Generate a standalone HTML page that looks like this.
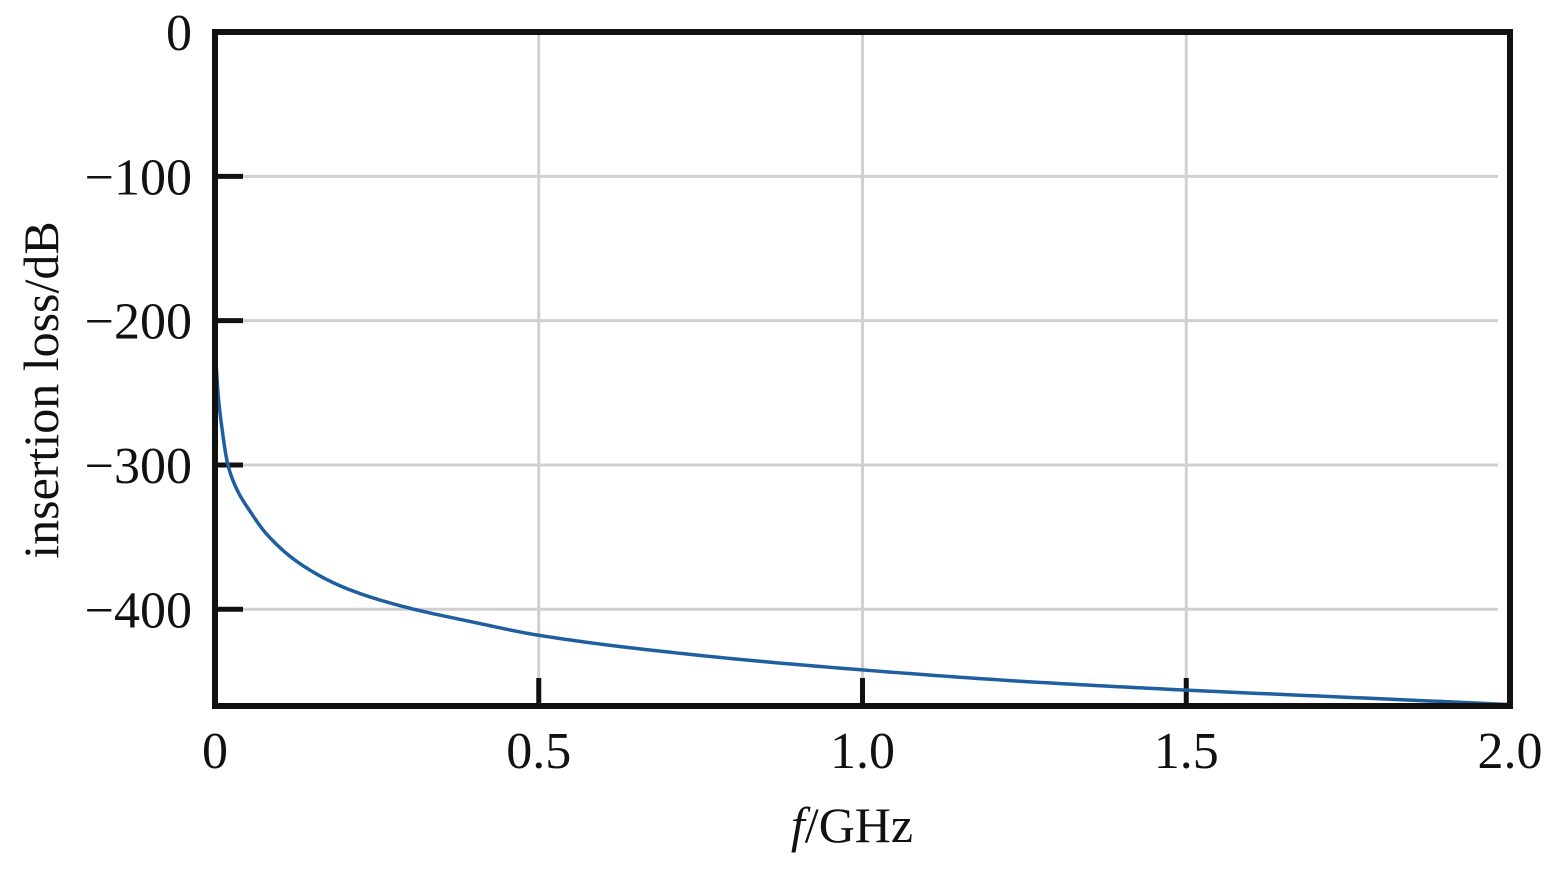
<!DOCTYPE html>
<html><head><meta charset="utf-8"><style>
body{margin:0;background:#fff}
svg{display:block;font-family:"Liberation Serif",serif}
</style></head><body>
<svg id="c" width="1559" height="874"></svg>
<script>
const freqs=[0,0.002,0.005,0.01,0.02,0.035,0.054,0.08,0.13,0.2,0.29,0.4,0.5,0.75,1,1.25,1.5,1.75,2];
const loss=[-218,-232,-252,-272,-300,-318,-332,-348,-368,-385,-398,-409,-418,-432,-442,-450,-456,-461,-466];
const xTicks=[0,0.5,1.0,1.5,2.0];
const xTickLabels=["0","0.5","1.0","1.5","2.0"];
const yTicks=[0,-100,-200,-300,-400];
const yTickLabels=["0","\u2212100","\u2212200","\u2212300","\u2212400"];
const L=215,R=1510,T=32,B=706;
const X=v=>L+(v-0)/(2-0)*(R-L);
const Y=v=>T+(0-v)/(467)*(B-T);
const svg=document.getElementById('c');
const NS='http://www.w3.org/2000/svg';
function mk(t,a,p){const e=document.createElementNS(NS,t);for(const k in a)e.setAttribute(k,a[k]);(p||svg).appendChild(e);return e;}
xTicks.forEach((v,i)=>{if(i==0||i==xTicks.length-1)return;
const g=mk('line',{x1:X(v),x2:X(v),y1:T,y2:B,stroke:'#d0d0d0','stroke-width':3});


const t=mk('line',{x1:X(v),x2:X(v),y1:B-28,y2:B,stroke:'#111','stroke-width':5});

});
yTicks.forEach((v,i)=>{if(i>0){
const g=mk('line',{x1:L,x2:R-12,y1:Y(v),y2:Y(v),stroke:'#d0d0d0','stroke-width':3});


const t=mk('line',{x1:L,x2:L+28,y1:Y(v),y2:Y(v),stroke:'#111','stroke-width':5});

}
const tx=mk('text',{x:192,y:Y(v)+18,'text-anchor':'end','font-size':52,fill:'#111'});tx.textContent=yTickLabels[i];

});
xTicks.forEach((v,i)=>{const tx=mk('text',{x:X(v),y:768,'text-anchor':'middle','font-size':52,fill:'#111'});tx.textContent=xTickLabels[i];

});
// monotone cubic interpolation
const n=freqs.length,dl=[],m=new Array(n);
for(let i=0;i<n-1;i++)dl.push((loss[i+1]-loss[i])/(freqs[i+1]-freqs[i]));
m[0]=dl[0];m[n-1]=dl[n-2];
for(let i=1;i<n-1;i++){if(dl[i-1]*dl[i]<=0)m[i]=0;else{const h0=freqs[i]-freqs[i-1],h1=freqs[i+1]-freqs[i];const w1=2*h1+h0,w2=h1+2*h0;m[i]=(w1+w2)/(w1/dl[i-1]+w2/dl[i]);}}
let d='';
for(let i=0;i<n-1;i++){const h=freqs[i+1]-freqs[i];
for(let k=0;k<=20;k++){const t=k/20,t2=t*t,t3=t2*t;
const v=(2*t3-3*t2+1)*loss[i]+(t3-2*t2+t)*h*m[i]+(-2*t3+3*t2)*loss[i+1]+(t3-t2)*h*m[i+1];
const f=freqs[i]+t*h;d+=(d?' L':'M')+X(f).toFixed(2)+','+Y(v).toFixed(2);}}
const path=mk('path',{d:d,fill:'none',stroke:'#1f5f9f','stroke-width':3.5});


const fr=mk('rect',{x:L,y:T,width:R-L,height:B-T,fill:'none',stroke:'#111','stroke-width':6});


const yl=mk('text',{x:0,y:0,'text-anchor':'middle','font-size':50,fill:'#111',transform:'translate(58,390) rotate(-90)'});yl.textContent='insertion loss/dB';


const xl=mk('text',{x:852,y:842,'text-anchor':'middle','font-size':50,fill:'#111'});
xl.innerHTML='<tspan font-style="italic">f</tspan>/GHz';


</script>
</body></html>
